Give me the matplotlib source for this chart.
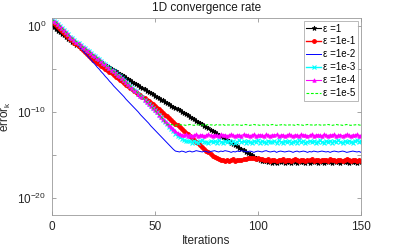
import numpy as np
import matplotlib
matplotlib.use('Agg')
import matplotlib.pyplot as plt

# log10(error_k), one value per iteration
black_log = [0.1, -0.1, -0.3, -0.5, -0.7, -0.9, -1.05, -1.25, -1.45, -1.6, -1.8,
             -2.0, -2.15, -2.35, -2.5, -2.7, -2.85, -3.05, -3.2, -3.4, -3.55,
             -3.7, -3.9, -4.05, -4.2, -4.35, -4.5, -4.65, -4.8, -4.95, -5.1,
             -5.25, -5.4, -5.55, -5.7, -5.85, -6.0, -6.15, -6.3, -6.45, -6.6,
             -6.75, -6.9, -7.05, -7.2, -7.35, -7.5, -7.65, -7.8, -7.95, -8.1,
             -8.25, -8.4, -8.55, -8.65, -8.8, -8.95, -9.1, -9.25, -9.4, -9.5,
             -9.65, -9.8, -9.95, -10.1, -10.25, -10.4, -10.55, -10.7, -10.85, -11.0,
             -11.15, -11.3, -11.45, -11.6, -11.75, -11.9, -12.05, -12.2, -12.35, -12.5,
             -12.65, -12.8, -12.95, -13.1, -13.25, -13.4, -13.55, -13.7, -13.85, -14.0,
             -14.15, -14.3, -14.45, -14.6, -14.75, -14.9, -15.05, -15.2, -15.35, -15.45,
             -15.55, -15.65, -15.7,
             -15.75, -15.85, -15.7, -15.9, -15.8, -15.95, -15.75, -15.85, -15.7, -15.9,
             -15.8, -15.85, -15.95, -15.75, -15.8, -15.9, -15.7, -15.85, -15.8, -15.95,
             -15.75, -15.9, -15.8, -15.7, -15.85, -15.9, -15.75, -15.8, -15.95, -15.85,
             -15.7, -15.8, -15.9, -15.75, -15.85, -15.8, -15.95, -15.7, -15.85, -15.8,
             -15.9, -15.75, -15.85, -15.8, -15.9, -15.75, -15.85]

red_log = [0.55, 0.35, 0.1, -0.1, -0.35, -0.55, -0.8, -1.0, -1.2, -1.45, -1.65,
           -1.9, -2.1, -2.35, -2.55, -2.8, -3.0, -3.25, -3.45, -3.7, -3.9,
           -4.1, -4.25, -4.45, -4.6, -4.8, -5.0, -5.15, -5.35, -5.5, -5.7,
           -5.9, -6.05, -6.25, -6.4, -6.6, -6.8, -6.95, -7.15, -7.3, -7.5,
           -7.7, -7.85, -8.05, -8.2, -8.4, -8.6, -8.75, -8.95, -9.1, -9.3,
           -9.5, -9.7, -9.9, -10.1, -10.3, -10.5, -10.7, -10.95, -11.15, -11.35,
           -11.55, -11.75, -11.95, -12.2, -12.4, -12.6, -12.8, -13.0, -13.25, -13.45,
           -13.65, -13.85, -14.05, -14.3, -14.5, -14.7, -14.9, -15.1, -15.25, -15.4,
           -15.5, -15.55, -15.6,
           -15.65, -15.55, -15.7, -15.6, -15.5, -15.65, -15.6, -15.55, -15.6, -15.5,
           -15.45, -15.4, -15.35, -15.4, -15.35, -15.45, -15.4, -15.5, -15.45, -15.55,
           -15.6, -15.5, -15.65, -15.55, -15.6, -15.7, -15.55, -15.6, -15.5, -15.65,
           -15.6, -15.55, -15.7, -15.6, -15.5, -15.6, -15.65, -15.55, -15.6, -15.7,
           -15.55, -15.6, -15.5, -15.65, -15.6, -15.55, -15.7, -15.6, -15.55, -15.6,
           -15.65, -15.5, -15.6, -15.55, -15.7, -15.6, -15.55, -15.65, -15.6, -15.5,
           -15.6, -15.65, -15.55, -15.6, -15.7, -15.6, -15.65]

blue_log = [0.6, 0.5, 0.35, 0.15, -0.05, -0.25, -0.5, -0.7, -0.95, -1.2, -1.45,
            -1.7, -2.0, -2.25, -2.55, -2.8, -3.1, -3.35, -3.65, -3.9, -4.2,
            -4.45, -4.75, -5.0, -5.3, -5.55, -5.85, -6.1, -6.4, -6.65, -6.95,
            -7.2, -7.45, -7.7, -7.95, -8.2, -8.5, -8.75, -9.0, -9.25, -9.5,
            -9.75, -10.0, -10.3, -10.55, -10.8, -11.05, -11.3, -11.6, -11.85, -12.1,
            -12.35, -12.6, -12.85, -13.1, -13.35, -13.6, -13.85, -14.1, -14.35, -14.55,
            -14.6, -14.65, -14.55, -14.6, -14.7, -14.6, -14.55, -14.65, -14.6, -14.5,
            -14.55, -14.6, -14.65, -14.55, -14.6, -14.7, -14.6, -14.55, -14.5, -14.6,
            -14.65, -14.55, -14.6, -14.5, -14.55, -14.6, -14.7, -14.6, -14.65, -14.55,
            -14.6, -14.5, -14.55, -14.6, -14.65, -14.55, -14.6, -14.7, -14.6, -14.55,
            -14.6, -14.65, -14.55, -14.5, -14.6, -14.65, -14.6, -14.55, -14.7, -14.6,
            -14.55, -14.6, -14.65, -14.6, -14.55, -14.6, -14.7, -14.6, -14.55, -14.65,
            -14.6, -14.55, -14.6, -14.7, -14.6, -14.65, -14.55, -14.6, -14.65, -14.6,
            -14.55, -14.6, -14.65, -14.6, -14.7, -14.6, -14.55, -14.6, -14.65, -14.6,
            -14.55, -14.6, -14.7, -14.65, -14.6, -14.55, -14.6, -14.65, -14.6, -14.7]

# eps = 1e-3, 1e-4, 1e-5 lie on top of each other until iteration 52
cluster_log = [0.75, 0.65, 0.5, 0.3, 0.05, -0.2, -0.45, -0.7, -0.95, -1.2, -1.4,
               -1.6, -1.8, -2.0, -2.2, -2.4, -2.55, -2.75, -2.9, -3.1, -3.3,
               -3.45, -3.65, -3.85, -4.05, -4.25, -4.45, -4.65, -4.85, -5.05, -5.25,
               -5.45, -5.65, -5.85, -6.05, -6.3, -6.5, -6.7, -6.95, -7.15, -7.4,
               -7.6, -7.85, -8.1, -8.3, -8.55, -8.8, -9.05, -9.3, -9.55, -9.8,
               -10.05, -10.3]

magenta_tail = [-10.55, -10.8, -11.05, -11.3, -11.55, -11.8, -12.0, -12.2, -12.4, -12.55, -12.65,
                -12.7, -12.6, -12.75, -12.65, -12.8, -12.7, -12.6, -12.75, -12.7, -12.65,
                -12.8, -12.7, -12.6, -12.7, -12.75, -12.65, -12.7, -12.8, -12.6, -12.7,
                -12.65, -12.75, -12.7, -12.6, -12.7, -12.8, -12.65, -12.7, -12.75, -12.6,
                -12.7, -12.65, -12.8, -12.7, -12.6, -12.75, -12.7, -12.65, -12.7, -12.8,
                -12.6, -12.7, -12.75, -12.65, -12.7, -12.6, -12.8, -12.7, -12.65, -12.75,
                -12.7, -12.6, -12.7, -12.8, -12.65, -12.7, -12.75, -12.6, -12.7, -12.65,
                -12.8, -12.7, -12.6, -12.75, -12.7, -12.65, -12.7, -12.8, -12.6, -12.7,
                -12.75, -12.65, -12.7, -12.6, -12.8, -12.7, -12.65, -12.75, -12.7, -12.6,
                -12.7, -12.8, -12.65, -12.7, -12.6, -12.75, -12.7]

cyan_tail = [-10.6, -10.9, -11.15, -11.45, -11.7, -12.0, -12.25, -12.5,
             -12.75, -12.95, -13.1, -13.25, -13.35, -13.4,
             -13.4, -13.55, -13.35, -13.5, -13.6, -13.4, -13.3, -13.5, -13.45, -13.6,
             -13.35, -13.5, -13.4, -13.55, -13.3, -13.45, -13.6, -13.4, -13.5, -13.35,
             -13.55, -13.4, -13.6, -13.45, -13.3, -13.5, -13.4, -13.55, -13.35, -13.5,
             -13.6, -13.4, -13.45, -13.3, -13.55, -13.4, -13.5, -13.6, -13.35, -13.45,
             -13.5, -13.4, -13.6, -13.3, -13.45, -13.55, -13.4, -13.5, -13.35, -13.6,
             -13.45, -13.4, -13.55, -13.3, -13.5, -13.4, -13.6, -13.45, -13.35, -13.5,
             -13.4, -13.55, -13.45, -13.3, -13.5, -13.6, -13.4, -13.45, -13.35, -13.55,
             -13.4, -13.5, -13.3, -13.45, -13.6, -13.4, -13.5, -13.35, -13.45, -13.55,
             -13.4, -13.3, -13.45, -13.35]

green_tail = [-10.55, -10.8, -11.2, -11.45,
              -11.5, -11.45, -11.5, -11.55, -11.5, -11.45, -11.5, -11.5, -11.55, -11.5,
              -11.45, -11.5, -11.55, -11.5, -11.5, -11.45, -11.5, -11.55, -11.5, -11.45,
              -11.5, -11.5, -11.55, -11.45, -11.5, -11.5, -11.45, -11.55, -11.5, -11.5,
              -11.55, -11.5, -11.45, -11.5, -11.5, -11.55, -11.5, -11.45, -11.5, -11.55,
              -11.5, -11.45, -11.5, -11.5, -11.55, -11.5, -11.5, -11.45, -11.55, -11.5,
              -11.45, -11.5, -11.55, -11.5, -11.5, -11.45, -11.5, -11.55, -11.5, -11.5,
              -11.5, -11.55, -11.45, -11.5, -11.5, -11.55, -11.5, -11.45, -11.5, -11.5,
              -11.55, -11.5, -11.45, -11.5, -11.55, -11.5, -11.5, -11.45, -11.5, -11.55,
              -11.5, -11.45, -11.5, -11.5, -11.55, -11.5, -11.45, -11.5, -11.55, -11.5,
              -11.5, -11.45, -11.5, -11.55]

labels = ['\u03b5 =1', '\u03b5 =1e-1', '\u03b5 =1e-2', '\u03b5 =1e-3', '\u03b5 =1e-4', '\u03b5 =1e-5']

series = [black_log, red_log, blue_log,
          cluster_log + cyan_tail, cluster_log + magenta_tail, cluster_log + green_tail]
styles = [dict(color='k', marker='*', ms=3.5, lw=0.8, mew=0.6),
          dict(color='#ff0000', marker='.', ms=5, lw=1.0),
          dict(color='#0000ff', lw=0.7),
          dict(color='#00ffff', marker='x', ms=2.5, lw=1.0, mew=0.8),
          dict(color='#ff00ff', marker='^', ms=2.5, lw=0.8, mew=0.5),
          dict(color='#00ff00', ls=(0, (2.5, 1.5)), lw=0.8)]

plt.rcParams['font.family'] = ['Liberation Sans', 'DejaVu Sans']
plt.rcParams['mathtext.fontset'] = 'custom'
plt.rcParams['mathtext.rm'] = 'Liberation Sans'

fig = plt.figure(figsize=(3.99, 2.49), dpi=100)
ax = fig.add_axes([0.1296, 0.1365, 0.7754, 0.7925])

for y, lab, st in zip(series, labels, styles):
    x = np.arange(len(y))
    ax.semilogy(x, 10.0 ** np.array(y), label=lab, **st)

ax.set_xlim(0, 150)
ax.set_ylim(1e-22, 1e1)
ax.set_xticks([0, 50, 100, 150])
ax.set_yticks([1e-20, 1e-15, 1e-10, 1e-5, 1e0])
ax.set_yticklabels(['$10^{-20}$', '', '$10^{-10}$', '', '$10^{0}$'])
ax.minorticks_off()
ax.tick_params(direction='in', top=True, right=True, length=3, width=0.5,
               color='#808080', labelsize=8.5, labelcolor='#262626', pad=4)
for s in ax.spines.values():
    s.set_color('#9a9a9a')
    s.set_linewidth(0.6)

ax.set_title('1D convergence rate', fontsize=8.5, color='#1a1a1a', pad=5)
ax.set_xlabel('Iterations', fontsize=8.5, color='#262626', labelpad=2)
ax.set_ylabel('error$_\\mathrm{k}$', fontsize=8.5, color='#262626')
ax.yaxis.set_label_coords(-0.125, 0.5)

leg = ax.legend(loc='upper right', fontsize=7, frameon=True, fancybox=False,
                handlelength=1.5, handletextpad=0.2, borderpad=0.25,
                labelspacing=0.3, borderaxespad=0.35)
leg.get_frame().set_edgecolor('#9a9a9a')
leg.get_frame().set_linewidth(0.6)

fig.savefig('out.png', dpi=100)
